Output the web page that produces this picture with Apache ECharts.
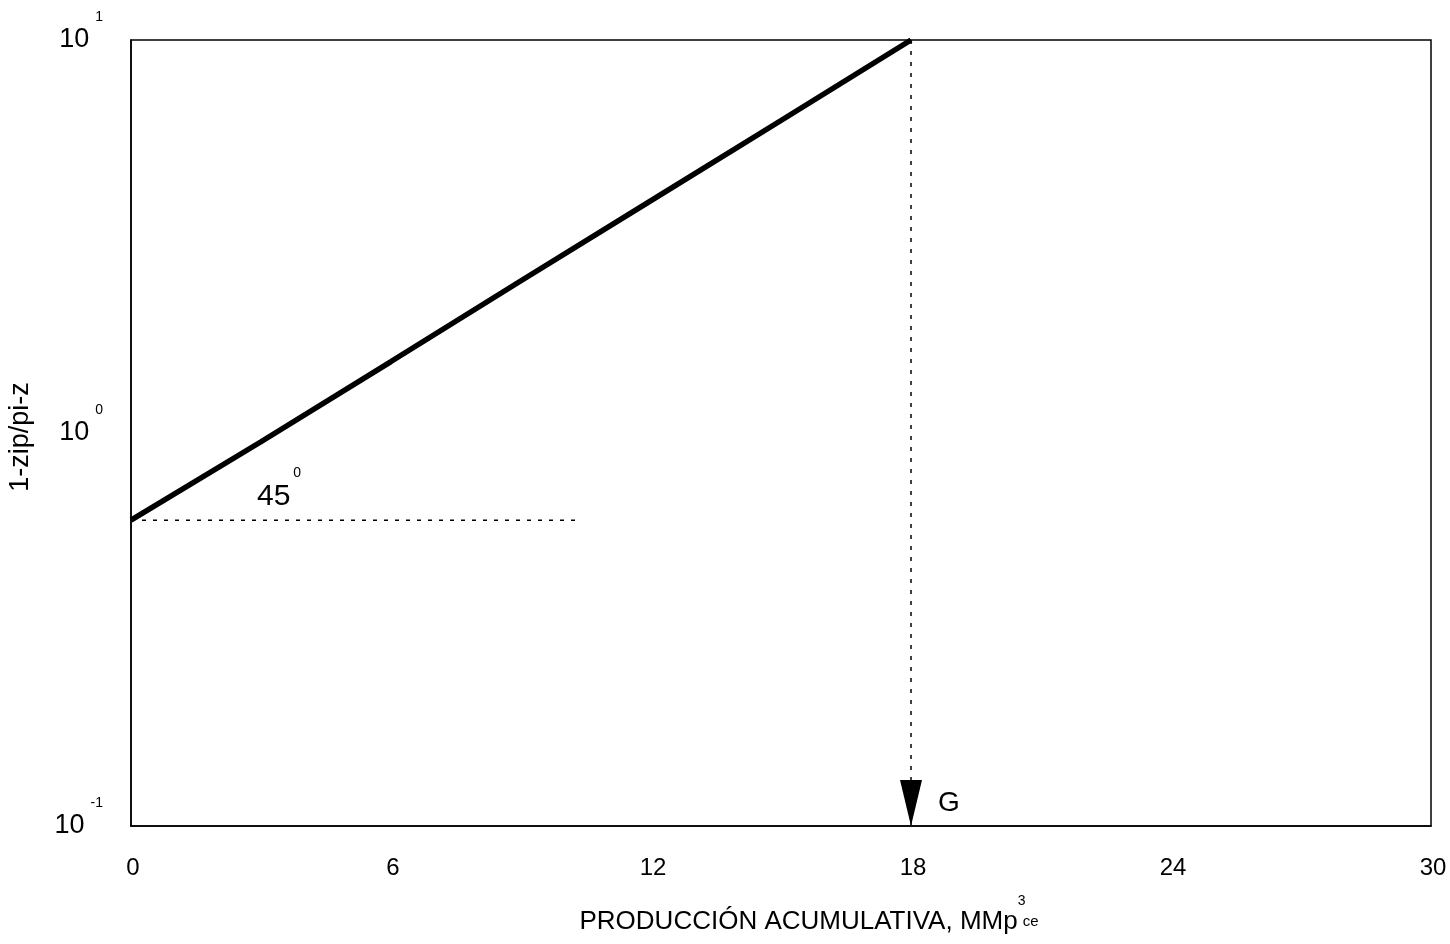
<!DOCTYPE html>
<html>
<head>
<meta charset="utf-8">
<script src="https://cdn.jsdelivr.net/npm/echarts@6/dist/echarts.min.js"></script>
<style>
  html, body { margin: 0; padding: 0; background: #fff; }
  #chart { width: 1450px; height: 944px; }
</style>
</head>
<body>
<div id="chart"></div>
<script>
// Cumulative production (MMp3ce) and 1 - z_i p / p_i z on a log scale
const production = [0, 3, 6, 9, 12, 15, 18];
const ratio = [0.6, 0.95, 1.52, 2.44, 3.9, 6.24, 10];

// Horizontal reference at the intercept, used for the 45° angle
const baseX = [0, 10.4];
const baseY = [0.6, 0.6];

// Vertical drop from the line end to G on the production axis
const gX = 18;
const gY = [10, 0.1];

const xTicks = [0, 6, 12, 18, 24, 30];
const yTicks = [0.1, 1, 10];

const FONT = '"Liberation Sans", Arial, sans-serif';

const chart = echarts.init(document.getElementById('chart'), null, { renderer: 'canvas' });

chart.setOption({
  backgroundColor: '#ffffff',
  animation: false,
  textStyle: { fontFamily: FONT, color: '#000' },
  grid: {
    left: 131, top: 40, width: 1300, height: 786,
    show: true, borderColor: '#000', borderWidth: 1.5,
    outerBoundsMode: 'none'
  },
  xAxis: {
    type: 'value',
    min: xTicks[0], max: xTicks[xTicks.length - 1], interval: 6,
    axisLine: { show: true, lineStyle: { color: '#000', width: 1.5 } },
    axisTick: { show: false },
    splitLine: { show: false },
    axisLabel: {
      margin: 30, fontSize: 24, color: '#000', fontFamily: FONT,
      padding: [0, 0, 0, 4],
      formatter: v => xTicks.includes(v) ? String(v) : ''
    },
    name: '{m|PRODUCCIÓN ACUMULATIVA, MMp}{s|3}{c|ce}',
    nameLocation: 'middle',
    nameGap: 68,
    nameTextStyle: {
      padding: [0, 0, 0, 56],
      rich: {
        m: { fontSize: 26, lineHeight: 56, verticalAlign: 'middle', color: '#000', fontFamily: FONT },
        s: { fontSize: 14, lineHeight: 16, verticalAlign: 'top', width: 2, color: '#000', fontFamily: FONT, padding: [0, 0, 0, 3] },
        c: { fontSize: 15, lineHeight: 56, verticalAlign: 'middle', color: '#000', fontFamily: FONT }
      }
    }
  },
  yAxis: {
    type: 'log', logBase: 10,
    min: yTicks[0], max: yTicks[yTicks.length - 1],
    axisLine: { show: true, lineStyle: { color: '#000', width: 1.5 } },
    axisTick: { show: false },
    splitLine: { show: false },
    minorTick: { show: false },
    axisLabel: {
      margin: 28, color: '#000', fontFamily: FONT,
      formatter: v => '{b|10}{s|' + Math.round(Math.log10(v)) + '}',
      rich: {
        b: { fontSize: 27, lineHeight: 60, verticalAlign: 'middle', color: '#000', fontFamily: FONT },
        s: { fontSize: 14, lineHeight: 16, verticalAlign: 'top', color: '#000', fontFamily: FONT, padding: [0, 0, 0, 6] }
      }
    },
    name: '1-zip/pi-z',
    nameLocation: 'middle',
    nameGap: 97,
    nameTextStyle: { fontSize: 27, color: '#000', fontFamily: FONT, padding: [0, 8, 0, 0] }
  },
  series: [
    {
      name: 'ratio',
      type: 'line',
      data: production.map((x, i) => [x, ratio[i]]),
      showSymbol: false,
      clip: false,
      lineStyle: { color: '#000', width: 5.5 },
      z: 5
    },
    {
      name: 'base',
      type: 'line',
      data: baseX.map((x, i) => [x, baseY[i]]),
      showSymbol: false,
      lineStyle: { color: '#000', width: 1.5, type: [4, 7] },
      z: 3
    },
    {
      name: 'drop',
      type: 'line',
      data: gY.map(y => [gX, y]),
      showSymbol: false,
      lineStyle: { color: '#000', width: 1.5, type: [4, 7] },
      z: 3
    },
    {
      name: 'G',
      type: 'scatter',
      data: [[gX, gY[1]]],
      symbol: 'triangle',
      symbolSize: [22, 46],
      symbolRotate: 180,
      symbolOffset: [0, -23],
      itemStyle: { color: '#000', opacity: 1 },
      label: {
        show: true, formatter: 'G', position: 'right', distance: 16,
        fontSize: 28, color: '#000', fontFamily: FONT
      },
      z: 6
    }
  ],
  graphic: [
    {
      type: 'text',
      left: 257, top: 466,
      style: {
        text: '{n|45}{d|0}',
        rich: {
          n: { fontSize: 30, lineHeight: 46, verticalAlign: 'bottom', fill: '#000', fontFamily: FONT },
          d: { fontSize: 14, lineHeight: 14, verticalAlign: 'top', fill: '#000', fontFamily: FONT, padding: [0, 0, 0, 3] }
        }
      }
    }
  ]
});
</script>
</body>
</html>
